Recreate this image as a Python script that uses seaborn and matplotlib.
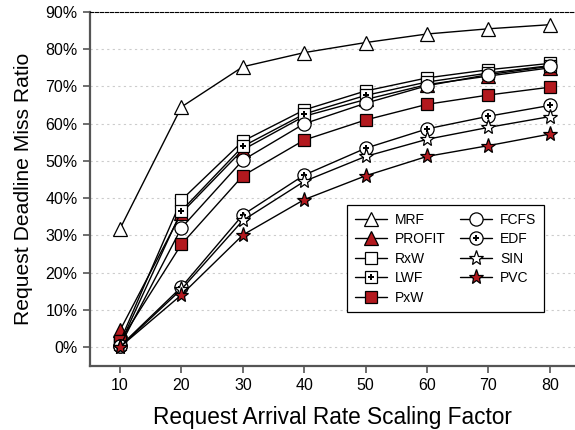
import matplotlib
matplotlib.use("Agg")
import matplotlib.pyplot as plt
from matplotlib.lines import Line2D
from matplotlib.legend_handler import HandlerTuple
from matplotlib.ticker import FuncFormatter
import seaborn as sns
import pandas as pd

# Arrival-rate scaling factors and deadline miss ratios (%) per scheduler
scaling = [10, 20, 30, 40, 50, 60, 70, 80]
mrf = [31.8, 64.5, 75.3, 79.1, 81.8, 84.1, 85.5, 86.6]
profit = [4.5, 36.0, 53.0, 62.0, 66.5, 70.5, 72.8, 75.0]
rxw = [1.5, 39.5, 55.3, 63.7, 68.8, 72.3, 74.5, 76.2]
lwf = [0.8, 36.6, 53.9, 62.6, 67.6, 71.2, 73.6, 75.6]
pxw = [1.5, 27.6, 46.0, 55.6, 61.0, 65.2, 67.7, 69.8]
fcfs = [0.3, 32.0, 50.2, 60.0, 65.5, 70.2, 73.2, 75.4]
edf = [0.2, 16.1, 35.5, 46.2, 53.4, 58.6, 62.0, 64.9]
sin = [0.0, 15.5, 34.0, 44.5, 51.2, 55.8, 59.0, 61.9]
pvc = [0.0, 14.0, 30.1, 39.6, 46.0, 51.2, 54.1, 57.2]

sns.set_theme(style="white")
plt.rcParams["font.family"] = ["Liberation Sans", "DejaVu Sans"]
plt.rcParams["text.color"] = "black"
plt.rcParams["axes.labelcolor"] = "black"

RED = "#B3191E"
W = "white"
series = [
    # name, values, marker, face, size, inner plus
    ("MRF", mrf, "^", W, 10, False),
    ("PROFIT", profit, "^", RED, 10, False),
    ("RxW", rxw, "s", W, 8.5, False),
    ("LWF", lwf, "s", W, 8.5, True),
    ("PxW", pxw, "s", RED, 8.5, False),
    ("FCFS", fcfs, "o", W, 9.5, False),
    ("EDF", edf, "o", W, 9.5, True),
    ("SIN", sin, "*", W, 11, False),
    ("PVC", pvc, "*", RED, 11, False),
]

fig = plt.figure(figsize=(5.75, 4.3), dpi=100)
ax = fig.add_axes([0.1565, 0.149, 0.8435, 0.823])

handles = []
for i, (name, vals, mk, fc, ms, plus) in enumerate(series):
    df = pd.DataFrame({"x": scaling, "y": vals})
    sns.lineplot(data=df, x="x", y="y", ax=ax, color="black", lw=1.0,
                 marker=mk, markersize=ms, markerfacecolor=fc,
                 markeredgecolor="black", markeredgewidth=0.9,
                 zorder=3 + i, legend=False)
    main = Line2D([], [], color="black", lw=1.0, marker=mk, markersize=ms,
                  markerfacecolor=fc, markeredgecolor="black",
                  markeredgewidth=0.9)
    if plus:
        ax.plot(scaling, vals, ls="none", marker="P", markersize=4.2,
                color="black", markeredgewidth=0, zorder=3 + i)
        dot = Line2D([], [], ls="none", marker="P", markersize=4.2,
                     color="black", markeredgewidth=0)
        handles.append(((main, dot), name))
    else:
        handles.append((main, name))

ax.set_xlim(5.1, 84.1)
ax.set_ylim(-5.1, 90)
ax.set_xticks(scaling)
ax.set_yticks(range(0, 91, 10))
ax.yaxis.set_major_formatter(FuncFormatter(lambda v, p: f"{v:.0f}%"))

for yv in range(0, 90, 10):
    ax.axhline(yv, color="#cccccc", lw=0.8, ls=(0, (2, 3)), zorder=1)

for side in ("left", "bottom"):
    ax.spines[side].set_color("#555555")
    ax.spines[side].set_linewidth(1.6)
ax.spines["right"].set_visible(False)
ax.spines["top"].set_color("black")
ax.spines["top"].set_linewidth(0.8)
ax.spines["top"].set_linestyle((0, (3, 1.5)))

ax.tick_params(axis="both", which="major", direction="out", length=5,
               width=1.2, color="#555555", labelcolor="black",
               labelsize=11.5, pad=4, bottom=True, left=True)

ax.set_xlabel("Request Arrival Rate Scaling Factor", fontsize=16.3, labelpad=9)
ax.set_ylabel("Request Deadline Miss Ratio", fontsize=15.2, labelpad=9)

leg = ax.legend([h for h, _ in handles], [n for _, n in handles],
                ncol=2, loc="upper left", bbox_to_anchor=(0.53, 0.455),
                fontsize=10, frameon=True, fancybox=False,
                edgecolor="black", framealpha=1, handlelength=2.3,
                handletextpad=0.6, columnspacing=1.0, labelspacing=0.4,
                borderpad=0.55, borderaxespad=0,
                handler_map={tuple: HandlerTuple(ndivide=1, pad=0)})
leg.get_frame().set_linewidth(0.9)
leg.set_zorder(20)

fig.savefig("out.png", dpi=100)
